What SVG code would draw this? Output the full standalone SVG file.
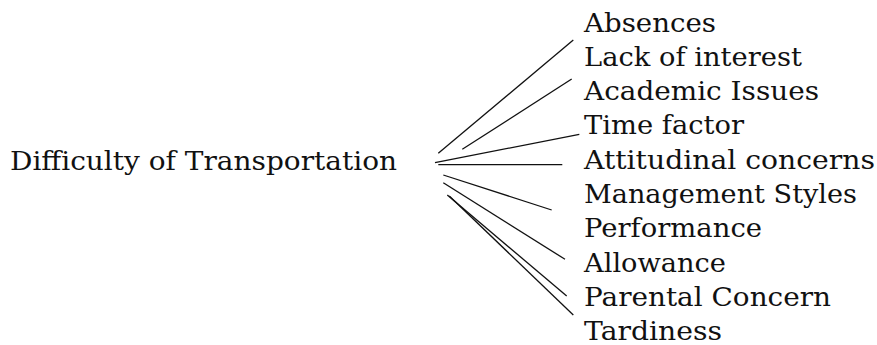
<svg xmlns="http://www.w3.org/2000/svg" width="877" height="345" viewBox="0 0 877 345">
  <style>
    text { font-family: "DejaVu Serif", "Liberation Serif", serif; font-size: 26px; fill: #111; }
    .conn line { stroke: #111; stroke-width: 1.3; }
  </style>
  <rect width="877" height="345" fill="#fff"/>
  <g id="root">
    <text x="10" y="170" textLength="387" lengthAdjust="spacingAndGlyphs">Difficulty of Transportation</text>
  </g>
  <g class="conn" id="connectors">
    <line x1="438.3" y1="153.3" x2="573.3" y2="40"/>
    <line x1="462.3" y1="149.3" x2="571.7" y2="79"/>
    <line x1="435" y1="162.7" x2="579.3" y2="134.3"/>
    <line x1="438.3" y1="164.7" x2="562.3" y2="164.7"/>
    <line x1="443.3" y1="175" x2="551.7" y2="210"/>
    <line x1="443.3" y1="182.7" x2="565" y2="259.3"/>
    <line x1="447.3" y1="195" x2="566.7" y2="296"/>
    <line x1="449.3" y1="196" x2="573.3" y2="315"/>
  </g>
  <g id="absences"><text x="584" y="31.5" textLength="132" lengthAdjust="spacingAndGlyphs">Absences</text></g>
  <g id="lack-of-interest"><text x="584" y="65.8" textLength="218" lengthAdjust="spacingAndGlyphs">Lack of interest</text></g>
  <g id="academic-issues"><text x="584" y="100.1" textLength="235" lengthAdjust="spacingAndGlyphs">Academic Issues</text></g>
  <g id="time-factor"><text x="584" y="134.4" textLength="160" lengthAdjust="spacingAndGlyphs">Time factor</text></g>
  <g id="attitudinal-concerns"><text x="584" y="168.7" textLength="291" lengthAdjust="spacingAndGlyphs">Attitudinal concerns</text></g>
  <g id="management-styles"><text x="584" y="203" textLength="273" lengthAdjust="spacingAndGlyphs">Management Styles</text></g>
  <g id="performance"><text x="584" y="237.3" textLength="178" lengthAdjust="spacingAndGlyphs">Performance</text></g>
  <g id="allowance"><text x="584" y="271.6" textLength="142" lengthAdjust="spacingAndGlyphs">Allowance</text></g>
  <g id="parental-concern"><text x="584" y="305.9" textLength="247" lengthAdjust="spacingAndGlyphs">Parental Concern</text></g>
  <g id="tardiness"><text x="584" y="340" textLength="138" lengthAdjust="spacingAndGlyphs">Tardiness</text></g>
</svg>
